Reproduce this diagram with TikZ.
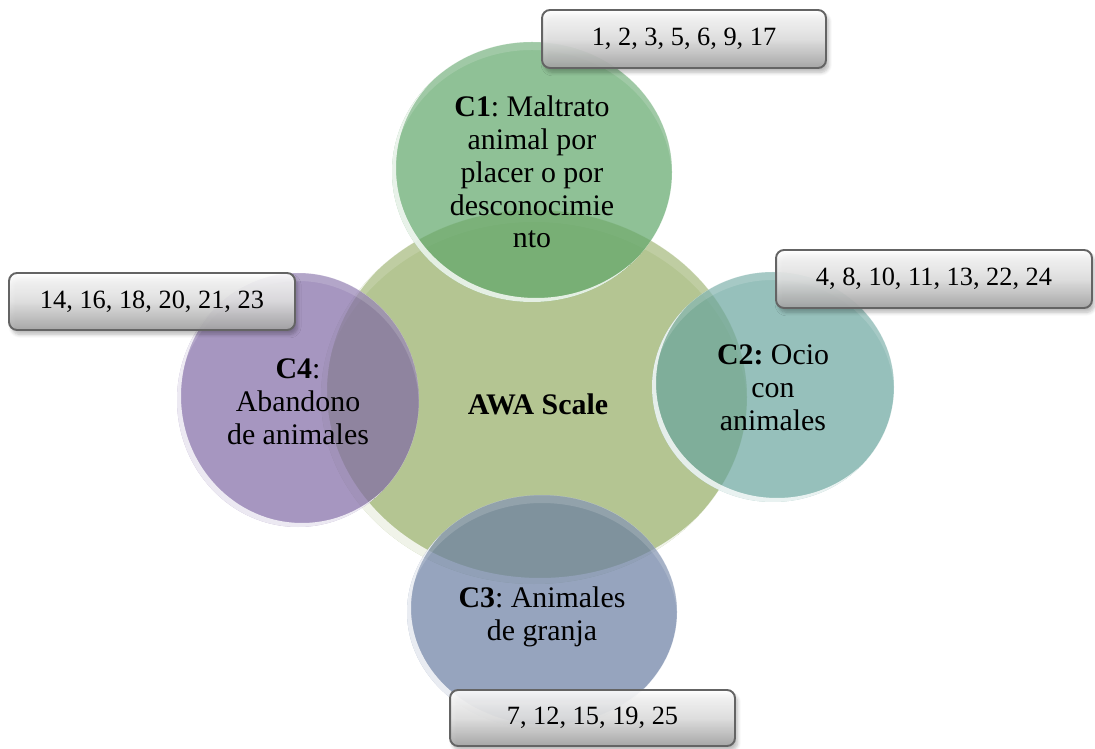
\documentclass[tikz,border=0pt]{standalone}
\usepackage{fontspec}
\setmainfont{Liberation Serif}
\usetikzlibrary{shadows.blur}
\frenchspacing

\definecolor{scalefill}{RGB}{180,197,146}
\definecolor{conefill}{RGB}{95,166,105}
\definecolor{ctwofill}{RGB}{105,165,158}
\definecolor{cthreefill}{RGB}{105,125,162}
\definecolor{cfourfill}{RGB}{128,105,165}
\definecolor{boxline}{RGB}{100,100,100}
\definecolor{boxlow}{RGB}{165,165,165}
\definecolor{boxmid}{RGB}{226,226,226}

% glossy disc: centre x, centre y, x radius, y radius, colour, opacity, rim shift
\newcommand\glassdisc[7]{%
  \fill[#5, fill opacity=#6] (#1,#2) ellipse [x radius=#3, y radius=#4];
  \begin{scope}
    \clip (#1,#2) ellipse [x radius=#3, y radius=#4];
    % bright rim on the lower left
    \fill[white, fill opacity=0.8, even odd rule]
      (#1,#2) ellipse [x radius=#3, y radius=#4]
      (#1+#7,#2-#7) ellipse [x radius=#3, y radius=#4];
    % soft sheen along the top
    \fill[white, fill opacity=0.15, even odd rule]
      (#1,#2) ellipse [x radius=#3, y radius=#4]
      (#1,#2+2*#7) ellipse [x radius=#3, y radius=#4];
  \end{scope}}

\begin{document}
\begin{tikzpicture}[x=0.02cm, y=-0.02cm,
  disctext/.style={align=center, inner sep=0pt,
    font=\fontsize{17}{18.7}\selectfont},
  numbox/.style={draw=boxline, line width=1.1pt, rounded corners=0.16cm,
    top color=white, bottom color=boxlow, middle color=boxmid,
    fill opacity=0.9, text opacity=1,
    font=\fontsize{15}{18}\selectfont,
    blur shadow={shadow xshift=1.5pt, shadow yshift=-2.5pt,
      shadow opacity=30, shadow blur steps=6, shadow blur radius=2pt}}]

\useasboundingbox (0,0) rectangle (1095,749);

% central scale and the four components
\glassdisc{534}{397}{213}{187}{scalefill}{1}{6}
\glassdisc{532}{172}{140}{130}{conefill}{0.7}{4}
\glassdisc{773}{387}{121}{115}{ctwofill}{0.7}{4}
\glassdisc{542}{612}{135}{117}{cthreefill}{0.7}{4}
\glassdisc{298}{400}{121}{127}{cfourfill}{0.7}{4}

% labels
\node[disctext] (awa) at (538,404) {\textbf{AWA Scale}};
\node[disctext] (c1) at (532,172)
  {\textbf{C1}: Maltrato\\animal por\\placer o por\\desconocimie\\nto};
\node[disctext] (c2) at (773,388) {\textbf{C2:} Ocio\\con\\animales};
\node[disctext] (c3) at (542,617) {\textbf{C3}: Animales\\de granja};
\node[disctext] (c4) at (298,402) {\textbf{C4}:\\Abandono\\de animales};

% item lists
\node[numbox, minimum width=5.68cm, minimum height=1.16cm] (n1) at (684,39)
  {1, 2, 3, 5, 6, 9, 17};
\node[numbox, minimum width=6.32cm, minimum height=1.16cm] (n2) at (934,279)
  {4, 8, 10, 11, 13, 22, 24};
\node[numbox, minimum width=5.70cm, minimum height=1.12cm] (n3) at (592.5,718)
  {7, 12, 15, 19, 25};
\node[numbox, minimum width=5.72cm, minimum height=1.14cm] (n4) at (152,301.5)
  {14, 16, 18, 20, 21, 23};
\end{tikzpicture}
\end{document}
